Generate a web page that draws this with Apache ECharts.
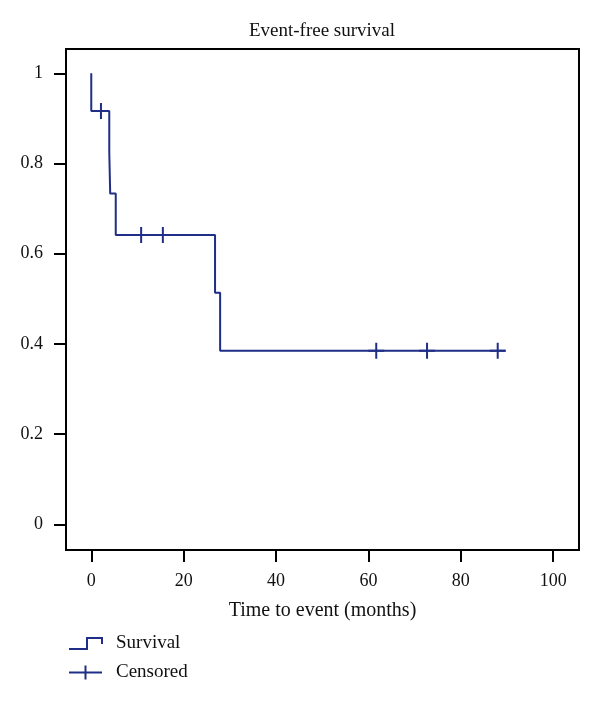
<!DOCTYPE html>
<html>
<head>
<meta charset="utf-8">
<script src="https://cdn.jsdelivr.net/npm/echarts@6/dist/echarts.min.js"></script>
<style>html,body{margin:0;padding:0;background:#fff}#c{width:600px;height:703px}</style>
</head>
<body>
<div id="c"></div>
<script>
// Kaplan-Meier step points (time in months, survival probability)
const survTime = [0, 0, 3.9, 4.1, 5.3, 26.8, 27.9, 89.7];
const survProb = [1, 0.9167, 0.825, 0.7333, 0.6417, 0.5133, 0.385, 0.385];
// Censored observations
const censTime = [2.1, 10.8, 15.5, 61.7, 72.7, 88.0];
const censProb = [0.9167, 0.6417, 0.6417, 0.385, 0.385, 0.385];
// Tick labels
const xTicks = [0, 20, 40, 60, 80, 100];
const yTicks = [0, 0.2, 0.4, 0.6, 0.8, 1];

const BLUE = '#1f2e86';
const FONT = 'Liberation Serif';

const chart = echarts.init(document.getElementById('c'), null, {renderer: 'canvas'});
chart.setOption({
  animation: false,
  backgroundColor: '#fff',
  title: {
    text: 'Event-free survival',
    left: 322, top: 22, textAlign: 'center', padding: 0,
    textStyle: {fontFamily: FONT, fontSize: 19, fontWeight: 'normal', color: '#111'}
  },
  grid: {
    left: 66, top: 49, width: 513, height: 501,
    show: true, borderColor: '#000', borderWidth: 2, backgroundColor: 'transparent'
  },
  legend: {
    orient: 'vertical', left: 68, top: 634, itemGap: 10, padding: 0,
    itemWidth: 33, itemHeight: 14, selectedMode: false,
    textStyle: {fontFamily: FONT, fontSize: 19, color: '#111', padding: [0, 0, 0, 9]},
    data: [
      {name: 'Survival', icon: 'path://M0,13L18,13L18,2L33,2L33,8',
       itemStyle: {color: 'transparent', borderColor: BLUE, borderWidth: 2}},
      {name: 'Censored', icon: 'path://M0,7L33,7M16.5,0L16.5,14',
       itemStyle: {color: 'transparent', borderColor: BLUE, borderWidth: 2}}
    ]
  },
  xAxis: {
    type: 'value', min: -5.47, max: 105.6,
    name: 'Time to event (months)', nameLocation: 'middle', nameGap: 51,
    nameTextStyle: {fontFamily: FONT, fontSize: 20, color: '#111'},
    axisLine: {show: false, onZero: false},
    axisTick: {show: true, customValues: xTicks, length: 12, inside: false,
      lineStyle: {color: '#000', width: 2}},
    axisLabel: {customValues: xTicks, margin: 22, fontFamily: FONT, fontSize: 18, color: '#111'},
    splitLine: {show: false}
  },
  yAxis: {
    type: 'value', min: -0.057, max: 1.054,
    axisLine: {show: false, onZero: false},
    axisTick: {show: true, customValues: yTicks, length: 12, inside: false,
      lineStyle: {color: '#000', width: 2}},
    axisLabel: {customValues: yTicks, margin: 23, fontFamily: FONT, fontSize: 18, color: '#111'},
    splitLine: {show: false}
  },
  series: [
    {
      name: 'Survival', type: 'line', step: 'end',
      data: survTime.map((t, i) => [t, survProb[i]]),
      showSymbol: false, symbol: 'none',
      lineStyle: {color: BLUE, width: 2},
      itemStyle: {color: BLUE}
    },
    {
      name: 'Censored', type: 'scatter',
      data: censTime.map((t, i) => [t, censProb[i]]),
      symbol: 'path://M0,8L16,8M8,0L8,16', symbolSize: 16,
      itemStyle: {color: 'transparent', borderColor: BLUE, borderWidth: 2, opacity: 1}
    }
  ]
});
</script>
</body>
</html>
